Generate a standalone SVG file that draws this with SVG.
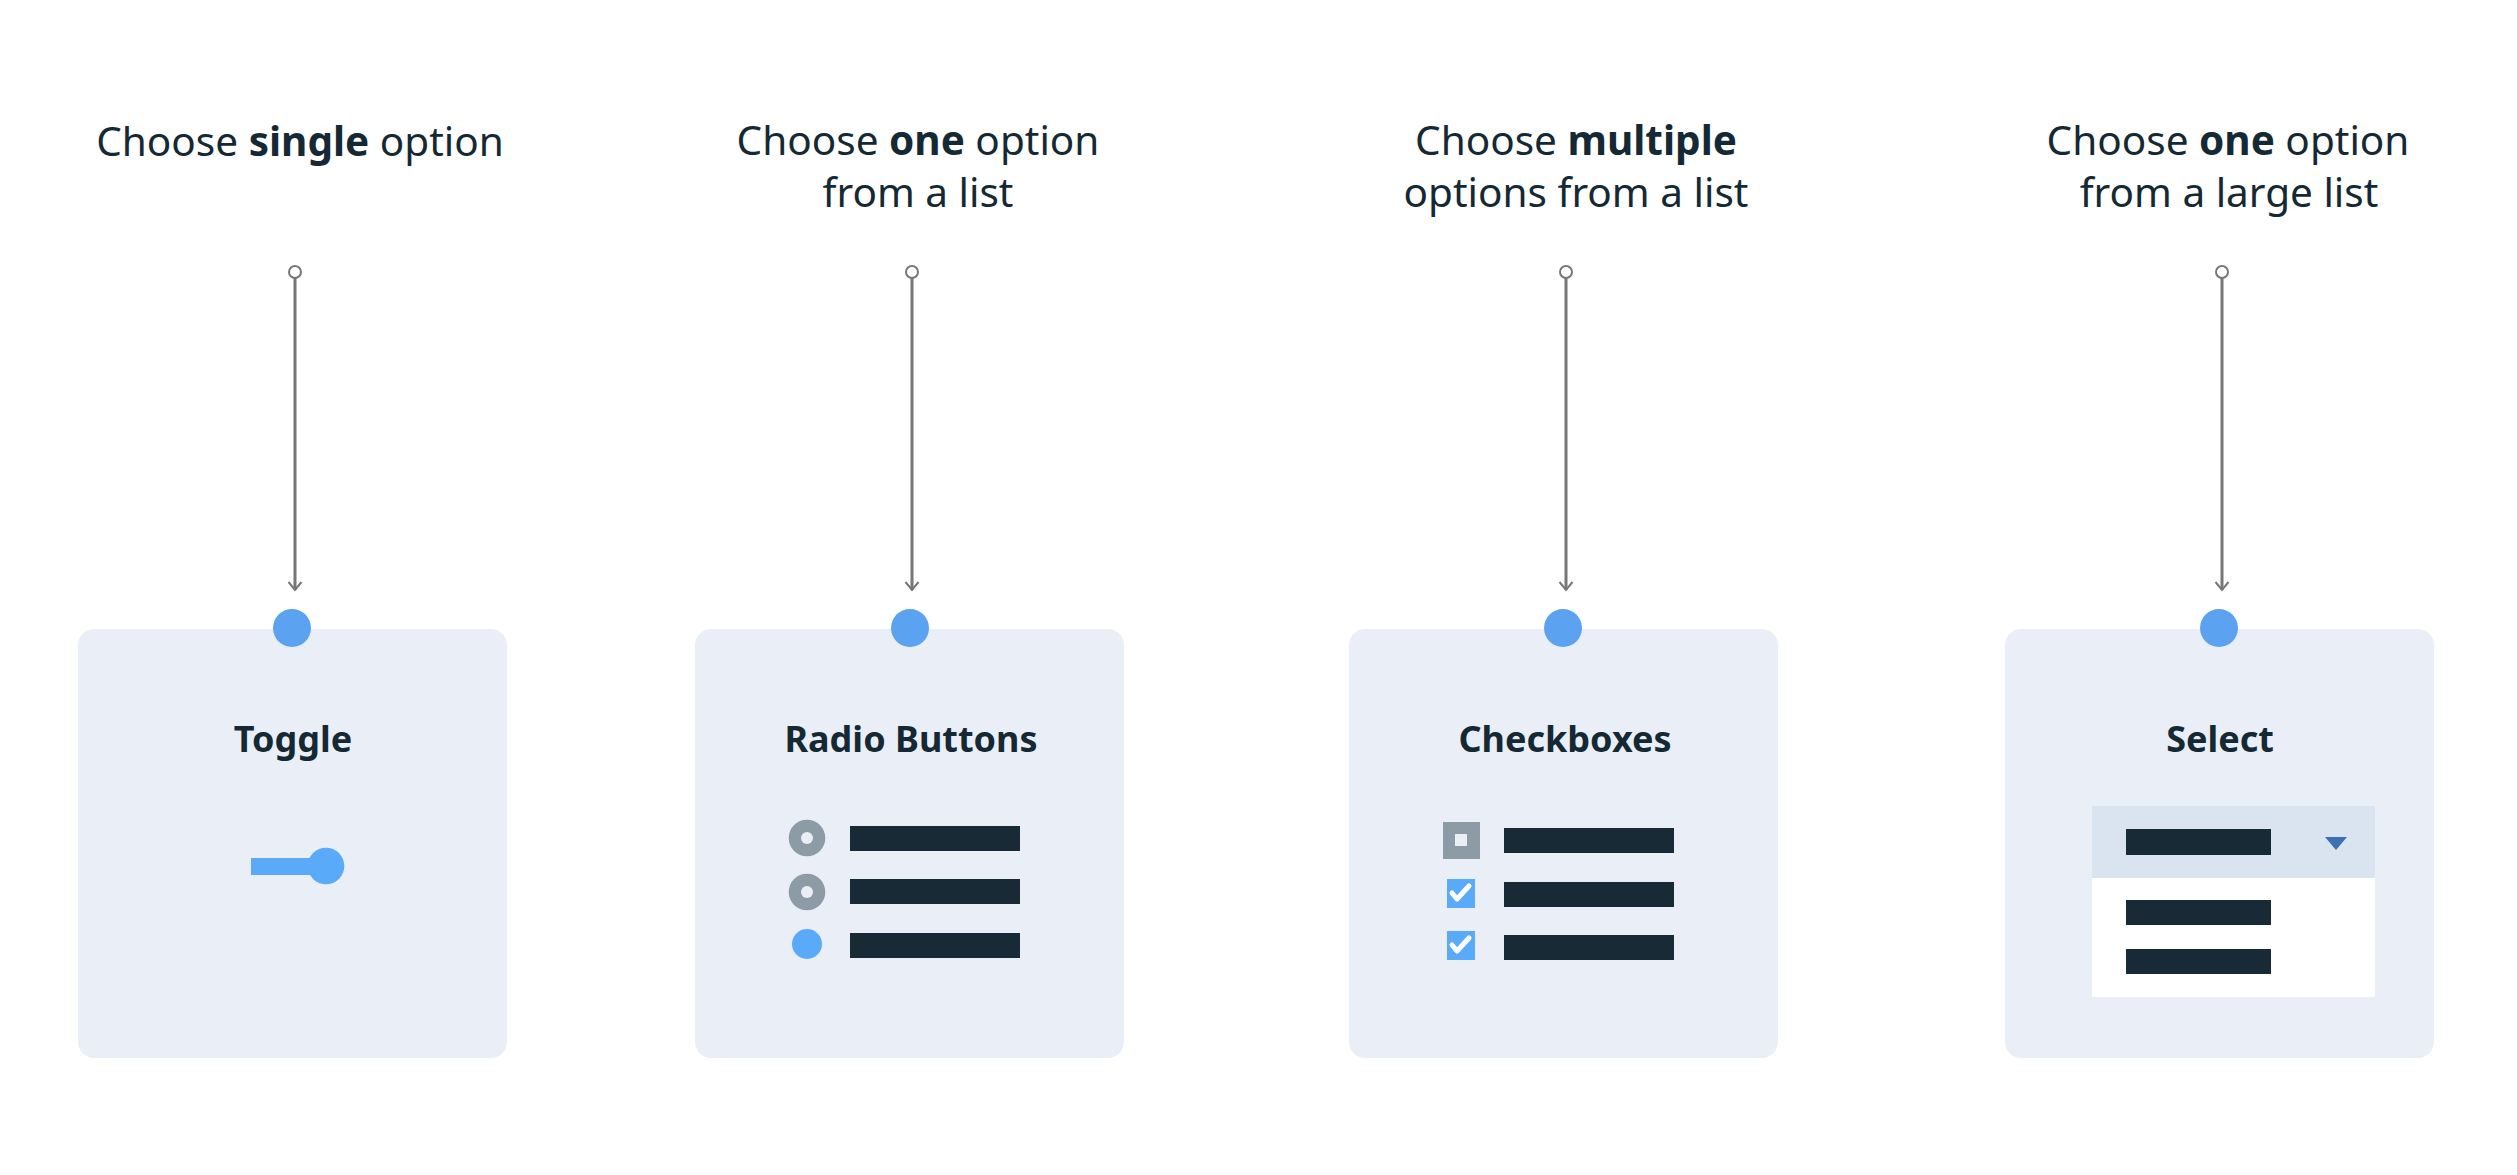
<svg xmlns="http://www.w3.org/2000/svg" width="2517" height="1175" viewBox="0 0 2517 1175">
<style>
.title{font-family:"Noto Sans","Open Sans","Liberation Sans",sans-serif;font-size:40.5px;fill:#152935;text-anchor:middle}
.b{font-weight:700}
.ctitle{font-family:"Noto Sans","Open Sans","Liberation Sans",sans-serif;font-size:36px;font-weight:700;fill:#152935;text-anchor:middle}
.card{fill:#eaeff7}
.pin{fill:#5ba3f1}
.bar{fill:#172a36}
.conn{stroke:#777777;stroke-width:3;fill:none}
.start{fill:#ffffff;stroke:#777777;stroke-width:2}
.radio{fill:#8c9ba5}
.hole{fill:#eaeff7}
.blue{fill:#5aaafa}
.check{fill:none;stroke:#ffffff;stroke-width:5;stroke-linecap:round;stroke-linejoin:round}
</style>
<defs>
<marker id="arr" markerUnits="userSpaceOnUse" markerWidth="24" markerHeight="24" viewBox="-12 -12 24 24" refX="0" refY="0" orient="auto">
<path d="M-8,-6.5 L0,0 L-8,6.5" fill="none" stroke="#777777" stroke-width="2"/>
</marker>
</defs>
<rect width="2517" height="1175" fill="#ffffff"/>

<g id="labels">
<text class="title" x="300" y="156">Choose <tspan class="b">single</tspan> option</text>
<text class="title" x="918" y="155">Choose <tspan class="b">one</tspan> option</text>
<text class="title" x="918" y="207">from a list</text>
<text class="title" x="1576" y="155">Choose <tspan class="b">multiple</tspan></text>
<text class="title" x="1576" y="207">options from a list</text>
<text class="title" x="2228" y="155">Choose <tspan class="b">one</tspan> option</text>
<text class="title" x="2229" y="207">from a large list</text>
</g>

<g id="connectors">
<line class="conn" x1="295" y1="278" x2="295" y2="590" marker-end="url(#arr)"/>
<circle class="start" cx="295" cy="272" r="6"/>
<line class="conn" x1="912" y1="278" x2="912" y2="590" marker-end="url(#arr)"/>
<circle class="start" cx="912" cy="272" r="6"/>
<line class="conn" x1="1566" y1="278" x2="1566" y2="590" marker-end="url(#arr)"/>
<circle class="start" cx="1566" cy="272" r="6"/>
<line class="conn" x1="2222" y1="278" x2="2222" y2="590" marker-end="url(#arr)"/>
<circle class="start" cx="2222" cy="272" r="6"/>
</g>

<g id="toggle">
<rect class="card" x="78" y="629" width="429" height="429" rx="16"/>
<circle class="pin" cx="292" cy="628" r="19"/>
<text class="ctitle" x="293" y="752">Toggle</text>
<rect class="blue" x="251" y="858" width="70" height="17"/>
<circle class="blue" cx="326" cy="866" r="18.3"/>
</g>

<g id="radio-buttons">
<rect class="card" x="695" y="629" width="429" height="429" rx="16"/>
<circle class="pin" cx="910" cy="628" r="19"/>
<text class="ctitle" x="911" y="752">Radio Buttons</text>
<circle class="radio" cx="807" cy="838" r="18.3"/>
<circle class="hole" cx="807" cy="838" r="6"/>
<rect class="bar" x="850" y="826" width="170" height="25"/>
<circle class="radio" cx="807" cy="892" r="18.3"/>
<circle class="hole" cx="807" cy="892" r="6"/>
<rect class="bar" x="850" y="879" width="170" height="25"/>
<circle class="blue" cx="807" cy="944" r="15"/>
<rect class="bar" x="850" y="933" width="170" height="25"/>
</g>

<g id="checkboxes">
<rect class="card" x="1349" y="629" width="429" height="429" rx="16"/>
<circle class="pin" cx="1563" cy="628" r="19"/>
<text class="ctitle" x="1565" y="752">Checkboxes</text>
<rect class="radio" x="1443" y="822" width="37" height="37"/>
<rect class="hole" x="1455" y="834" width="12" height="12"/>
<rect class="bar" x="1504" y="828" width="170" height="25"/>
<rect class="blue" x="1447" y="879" width="28" height="29"/>
<path class="check" d="M1452,893 L1457,899 L1469,886"/>
<rect class="bar" x="1504" y="882" width="170" height="25"/>
<rect class="blue" x="1447" y="931" width="28" height="29"/>
<path class="check" d="M1452,945 L1457,951 L1469,938"/>
<rect class="bar" x="1504" y="935" width="170" height="25"/>
</g>

<g id="select">
<rect class="card" x="2005" y="629" width="429" height="429" rx="16"/>
<circle class="pin" cx="2219" cy="628" r="19"/>
<text class="ctitle" x="2220" y="752">Select</text>
<rect x="2092" y="806" width="283" height="191" fill="#ffffff"/>
<rect x="2092" y="806" width="283" height="72" fill="#dae3f0"/>
<rect class="bar" x="2126" y="829" width="145" height="26"/>
<path d="M2325,837 L2347,837 L2336,850 Z" fill="#3d70b2"/>
<rect class="bar" x="2126" y="900" width="145" height="25"/>
<rect class="bar" x="2126" y="949" width="145" height="25"/>
</g>
</svg>
